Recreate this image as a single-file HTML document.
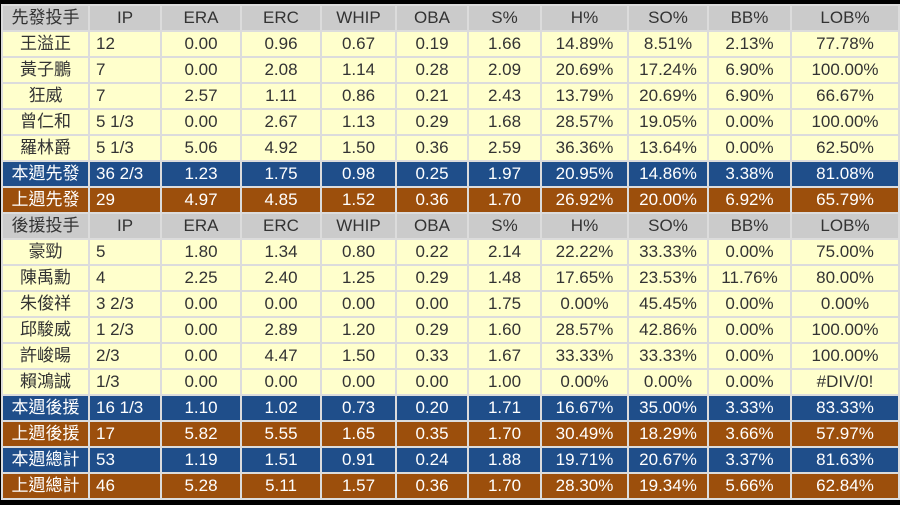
<!DOCTYPE html>
<html><head><meta charset="utf-8"><style>
html,body{margin:0;padding:0;background:#000;width:900px;height:505px;overflow:hidden}
table{position:absolute;left:1px;top:4px;border-collapse:collapse;table-layout:fixed;width:897px;font-family:"Liberation Sans","Noto Sans CJK TC",sans-serif;font-size:17px;background:#dcdcdc}
td{height:24px;padding:0;border:2px solid #dcdcdc;text-align:center;color:#333;white-space:nowrap;overflow:hidden;line-height:22px}
td:nth-child(2){text-align:left;padding-left:6px}
tr.h td{background:#cbcbcb;color:#333}
tr.h td:nth-child(2){text-align:center;padding-left:0}
tr.y td{background:#ffffcc}
tr.b td{background:#1f4e8a;color:#fff}
tr.o td{background:#9c4f0c;color:#fff}
</style></head><body>
<table>
<colgroup><col style="width:87px"><col style="width:72px"><col style="width:80px"><col style="width:80px"><col style="width:75px"><col style="width:72px"><col style="width:73px"><col style="width:87px"><col style="width:80px"><col style="width:83px"><col style="width:108px"></colgroup>
<tr class="h"><td>先發投手</td><td>IP</td><td>ERA</td><td>ERC</td><td>WHIP</td><td>OBA</td><td>S%</td><td>H%</td><td>SO%</td><td>BB%</td><td>LOB%</td></tr>
<tr class="y"><td>王溢正</td><td>12</td><td>0.00</td><td>0.96</td><td>0.67</td><td>0.19</td><td>1.66</td><td>14.89%</td><td>8.51%</td><td>2.13%</td><td>77.78%</td></tr>
<tr class="y"><td>黃子鵬</td><td>7</td><td>0.00</td><td>2.08</td><td>1.14</td><td>0.28</td><td>2.09</td><td>20.69%</td><td>17.24%</td><td>6.90%</td><td>100.00%</td></tr>
<tr class="y"><td>狂威</td><td>7</td><td>2.57</td><td>1.11</td><td>0.86</td><td>0.21</td><td>2.43</td><td>13.79%</td><td>20.69%</td><td>6.90%</td><td>66.67%</td></tr>
<tr class="y"><td>曾仁和</td><td>5 1/3</td><td>0.00</td><td>2.67</td><td>1.13</td><td>0.29</td><td>1.68</td><td>28.57%</td><td>19.05%</td><td>0.00%</td><td>100.00%</td></tr>
<tr class="y"><td>羅林爵</td><td>5 1/3</td><td>5.06</td><td>4.92</td><td>1.50</td><td>0.36</td><td>2.59</td><td>36.36%</td><td>13.64%</td><td>0.00%</td><td>62.50%</td></tr>
<tr class="b"><td>本週先發</td><td>36 2/3</td><td>1.23</td><td>1.75</td><td>0.98</td><td>0.25</td><td>1.97</td><td>20.95%</td><td>14.86%</td><td>3.38%</td><td>81.08%</td></tr>
<tr class="o"><td>上週先發</td><td>29</td><td>4.97</td><td>4.85</td><td>1.52</td><td>0.36</td><td>1.70</td><td>26.92%</td><td>20.00%</td><td>6.92%</td><td>65.79%</td></tr>
<tr class="h"><td>後援投手</td><td>IP</td><td>ERA</td><td>ERC</td><td>WHIP</td><td>OBA</td><td>S%</td><td>H%</td><td>SO%</td><td>BB%</td><td>LOB%</td></tr>
<tr class="y"><td>豪勁</td><td>5</td><td>1.80</td><td>1.34</td><td>0.80</td><td>0.22</td><td>2.14</td><td>22.22%</td><td>33.33%</td><td>0.00%</td><td>75.00%</td></tr>
<tr class="y"><td>陳禹勳</td><td>4</td><td>2.25</td><td>2.40</td><td>1.25</td><td>0.29</td><td>1.48</td><td>17.65%</td><td>23.53%</td><td>11.76%</td><td>80.00%</td></tr>
<tr class="y"><td>朱俊祥</td><td>3 2/3</td><td>0.00</td><td>0.00</td><td>0.00</td><td>0.00</td><td>1.75</td><td>0.00%</td><td>45.45%</td><td>0.00%</td><td>0.00%</td></tr>
<tr class="y"><td>邱駿威</td><td>1 2/3</td><td>0.00</td><td>2.89</td><td>1.20</td><td>0.29</td><td>1.60</td><td>28.57%</td><td>42.86%</td><td>0.00%</td><td>100.00%</td></tr>
<tr class="y"><td>許峻暘</td><td>2/3</td><td>0.00</td><td>4.47</td><td>1.50</td><td>0.33</td><td>1.67</td><td>33.33%</td><td>33.33%</td><td>0.00%</td><td>100.00%</td></tr>
<tr class="y"><td>賴鴻誠</td><td>1/3</td><td>0.00</td><td>0.00</td><td>0.00</td><td>0.00</td><td>1.00</td><td>0.00%</td><td>0.00%</td><td>0.00%</td><td>#DIV/0!</td></tr>
<tr class="b"><td>本週後援</td><td>16 1/3</td><td>1.10</td><td>1.02</td><td>0.73</td><td>0.20</td><td>1.71</td><td>16.67%</td><td>35.00%</td><td>3.33%</td><td>83.33%</td></tr>
<tr class="o"><td>上週後援</td><td>17</td><td>5.82</td><td>5.55</td><td>1.65</td><td>0.35</td><td>1.70</td><td>30.49%</td><td>18.29%</td><td>3.66%</td><td>57.97%</td></tr>
<tr class="b"><td>本週總計</td><td>53</td><td>1.19</td><td>1.51</td><td>0.91</td><td>0.24</td><td>1.88</td><td>19.71%</td><td>20.67%</td><td>3.37%</td><td>81.63%</td></tr>
<tr class="o"><td>上週總計</td><td>46</td><td>5.28</td><td>5.11</td><td>1.57</td><td>0.36</td><td>1.70</td><td>28.30%</td><td>19.34%</td><td>5.66%</td><td>62.84%</td></tr>
</table>
</body></html>
